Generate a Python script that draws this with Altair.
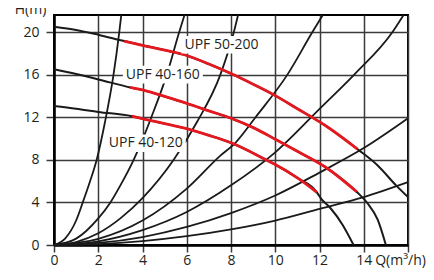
import altair as alt
import pandas as pd

# ---- system curves ----
sysA_Q = [0, 0.5, 1.0, 1.3, 1.6, 1.93, 2.3, 2.69, 2.95, 3.04]
sysA_H = [0, 0.6, 2.3, 4.0, 5.8, 8.0, 11.5, 16.0, 20.0, 21.6]
sysB_Q = [0, 1, 2, 2.55, 3, 3.6, 4, 4.4, 5.1, 5.66, 5.9]
sysB_H = [0, 0.6, 2.5, 4.0, 5.6, 8.0, 9.9, 12.0, 16.0, 20.0, 21.6]
sysC_Q = [0, 1, 2, 3, 4, 5.41, 6.45, 7.52, 8.13, 8.32]
sysC_H = [0, 0.28, 1.1, 2.5, 4.4, 8.0, 11.5, 16.0, 20.0, 21.6]
sysD_Q = [0, 2, 4, 6, 7.52, 8.2, 9.11, 10.55, 11.68, 12.15]
sysD_H = [0, 0.58, 2.3, 5.3, 8.4, 9.6, 12.0, 16.0, 20.0, 21.6]
sysE_Q = [0, 2, 4, 6, 8, 10, 12.06, 13.57, 15.3, 15.8]
sysE_H = [0, 0.35, 1.4, 3.1, 5.6, 8.7, 12.9, 16.0, 20.0, 21.6]
sysF_Q = [0, 2, 4, 6, 8, 10, 12, 14, 16]
sysF_H = [0, 0.19, 0.75, 1.7, 3.0, 4.65, 6.8, 9.1, 11.9]
sysG_Q = [0, 2, 4, 6, 8, 10, 12, 14, 16]
sysG_H = [0, 0.09, 0.37, 0.83, 1.47, 2.3, 3.4, 4.5, 5.9]

# ---- pump curves ----
p200_Q = [0, 1, 2, 3.17, 4, 5, 6, 7, 8, 9, 9.94, 11, 12.28, 13.72, 14.63, 15.46, 16]
p200_H = [20.5, 20.2, 19.75, 19.15, 18.75, 18.3, 17.8, 17.0, 16.1, 15.1, 14.1, 12.8, 11.2, 9.0, 7.47, 5.6, 4.5]
p160_Q = [0, 1, 2, 3.44, 4.12, 5, 6, 7, 8, 9.03, 10, 11, 12.28, 13.68, 14.17, 14.63, 15.0]
p160_H = [16.5, 16.05, 15.55, 14.8, 14.5, 13.95, 13.3, 12.6, 11.9, 11.0, 9.94, 8.8, 7.3, 5.0, 3.92, 2.38, 0]
p120_Q = [0, 1, 2, 3.52, 4.12, 5, 5.86, 7, 8, 9.56, 10, 11, 11.88, 12.06, 12.5, 13.04, 13.54]
p120_H = [13.05, 12.8, 12.5, 12.1, 11.8, 11.4, 11.0, 10.3, 9.6, 8.03, 7.56, 6.3, 4.95, 4.38, 3.45, 1.91, 0]
red_ranges = {"UPF 50-200": (3.17, 13.72), "UPF 40-160": (3.44, 13.68), "UPF 40-120": (3.52, 11.88)}

# ---- labels ----
lab_text = ["UPF 50-200", "UPF 40-160", "UPF 40-120"]
lab_Q = [7.57, 4.92, 4.15]
lab_H = [18.8, 16.0, 9.55]

x_ticks = [0, 2, 4, 6, 8, 10, 12, 14, 16]
y_ticks = [0, 4, 8, 12, 16, 20]

sys_curves = {"A": (sysA_Q, sysA_H), "B": (sysB_Q, sysB_H), "C": (sysC_Q, sysC_H),
              "D": (sysD_Q, sysD_H), "E": (sysE_Q, sysE_H), "F": (sysF_Q, sysF_H),
              "G": (sysG_Q, sysG_H)}
pumps = {"UPF 50-200": (p200_Q, p200_H), "UPF 40-160": (p160_Q, p160_H), "UPF 40-120": (p120_Q, p120_H)}

sys_df = pd.DataFrame([dict(curve=k, Q=q, H=h) for k, (qs, hs) in sys_curves.items() for q, h in zip(qs, hs)])
pump_df = pd.DataFrame([dict(curve=k, Q=q, H=h) for k, (qs, hs) in pumps.items() for q, h in zip(qs, hs)])
red_df = pd.DataFrame([dict(curve=k, Q=q, H=h) for k, (qs, hs) in pumps.items() for q, h in zip(qs, hs)
                       if red_ranges[k][0] <= q <= red_ranges[k][1]])
lab_df = pd.DataFrame({"label": lab_text, "Q": lab_Q, "H": lab_H})

FONT = "Open Sans"
GRID = "#3a3a3a"

x_enc = alt.X("Q:Q", scale=alt.Scale(domain=[0, 16], nice=False),
              axis=alt.Axis(values=x_ticks, title=None, grid=True, gridColor=GRID, gridWidth=1.5,
                            tickSize=7, tickColor=GRID, tickWidth=1.5,
                            domainColor="black", domainWidth=2.5,
                            labelFont=FONT, labelFontSize=14, labelColor="#231f20", labelPadding=1,
                            labelOverlap=False, labelFlush=False,
                            labelOffset={"condition": {"test": "datum.value == 16", "value": -8}, "value": 0},
                            labelExpr="datum.value == 16 ? 'Q(m³/h)' : datum.label"))
y_enc = alt.Y("H:Q", scale=alt.Scale(domain=[0, 21.6], nice=False),
              axis=alt.Axis(values=y_ticks, title="H(m)", grid=True, gridColor=GRID, gridWidth=1.5,
                            tickSize=8, tickColor=GRID, tickWidth=1.5,
                            domainColor="black", domainWidth=2.5,
                            labelFont=FONT, labelFontSize=14, labelColor="#231f20", labelPadding=7,
                            labelFlush=False,
                            titleAngle=0, titleX=-24, titleY=-2, titleAlign="center",
                            titleBaseline="alphabetic", titleFont=FONT, titleFontSize=14,
                            titleFontWeight="normal", titleColor="#231f20"))

sys_layer = alt.Chart(sys_df).mark_line(color="#1a1a1a", strokeWidth=1.8, interpolate="monotone").encode(
    x=x_enc, y=y_enc, detail="curve:N")
pump_layer = alt.Chart(pump_df).mark_line(color="#1a1a1a", strokeWidth=2, interpolate="monotone").encode(
    x="Q:Q", y="H:Q", detail="curve:N")
red_layer = alt.Chart(red_df).mark_line(color="#e3191f", strokeWidth=2.8, interpolate="monotone").encode(
    x="Q:Q", y="H:Q", detail="curve:N")
box_layer = alt.Chart(lab_df).mark_point(shape="M-1,-0.22H1V0.22H-1Z", size=6400, filled=True,
                                         color="white", opacity=1).encode(x="Q:Q", y="H:Q")
text_layer = alt.Chart(lab_df).mark_text(font=FONT, fontSize=14, color="#231f20").encode(
    x="Q:Q", y="H:Q", text="label:N")

chart = alt.layer(sys_layer, pump_layer, red_layer, box_layer, text_layer).properties(
    width=354, height=230,
    autosize=alt.AutoSizeParams(type="none"),
    padding={"left": 46, "top": 7, "right": 18, "bottom": 23},
).configure_view(stroke="black", strokeWidth=2)

chart.save("out.html", embed_options={"renderer": "svg", "actions": False})
